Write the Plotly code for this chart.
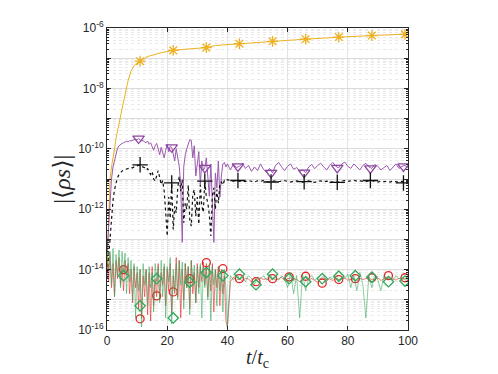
import plotly.graph_objects as go

# sample times: every 0.5 up to t=40, then every 1
t_grid = [i / 2 for i in range(81)] + list(range(41, 101))

# values stored as log10 exponents
orange_t = [0, 0.5, 1, 1.5, 2, 2.5, 3, 3.5, 4, 5, 6, 7, 8, 9, 10, 11, 12, 13, 14, 15, 16,
            18, 20, 22, 25, 28, 30, 33, 36, 40, 44, 48, 52, 55, 60, 66, 70, 77, 80, 88, 90, 95, 99, 100]
orange_exp = [-14.0, -12.2, -11.0, -10.6, -10.35, -10.0, -9.65, -9.4, -9.15,
              -8.6, -8.2, -7.75, -7.42, -7.25, -7.15, -7.1, -7.02, -6.97, -6.93, -6.9, -6.87,
              -6.82, -6.78, -6.74, -6.71, -6.68, -6.67, -6.65, -6.58, -6.55,
              -6.52, -6.48, -6.46, -6.44, -6.41, -6.37, -6.34, -6.30, -6.29, -6.25, -6.24, -6.22, -6.21, -6.2]
orange_mk_t = [11, 22, 33, 44, 55, 66, 77, 88, 99]
orange_mk_exp = [-7.1, -6.74, -6.65, -6.52, -6.44, -6.37, -6.30, -6.25, -6.21]

purple_exp = [
    -13.5, -12.5, -11.5, -11.0, -10.6, -10.36, -10.15, -9.98, -9.9, -9.85,
    -9.82, -9.8, -9.78, -9.75, -9.77, -9.73, -9.74, -9.72, -9.7, -9.68,
    -9.7, -9.66, -9.7, -9.75, -9.72, -9.78, -9.8, -9.74, -9.85, -9.8,
    -9.93, -10.05, -9.9, -9.82, -10.0, -10.2, -9.95, -10.15, -10.3, -10.05,
    -9.85, -10.1, -9.92, -9.95, -10.2, -10.4, -10.0, -10.36, -10.58, -11.2,
    -13.1, -10.6, -10.2, -10.0, -9.8, -9.7, -9.72, -10.3, -9.9, -10.9,
    -10.5, -10.1, -11.2, -10.4, -10.7, -10.63, -10.3, -10.9, -11.57, -10.5,
    -11.9, -13.1, -10.8, -11.3, -10.4, -11.6, -10.9, -10.5, -10.45, -10.6,
    -10.5,
    -10.7, -10.5, -10.62, -10.58, -10.48, -10.65, -10.55, -10.75, -10.6, -10.72,
    -10.5, -10.68, -10.78, -10.65, -10.8, -10.55, -10.45, -10.6, -10.72, -10.58,
    -10.5, -10.68, -10.62, -10.75, -10.7, -10.79, -10.6, -10.52, -10.66, -10.55,
    -10.48, -10.6, -10.7, -10.55, -10.45, -10.58, -10.63, -10.5, -10.44, -10.58,
    -10.65, -10.5, -10.6, -10.7, -10.55, -10.48, -10.6, -10.65, -10.52, -10.58,
    -10.7, -10.62, -10.55, -10.72, -10.6, -10.5, -10.65, -10.58, -10.55, -10.62]
purple_mk_t = [10.5, 21.5, 32.5, 43.5, 54.5, 65.5, 76.5, 87.5, 98.5]
purple_mk_exp = [-9.66, -9.95, -10.63, -10.58, -10.8, -10.79, -10.63, -10.65, -10.58]

black_exp = [
    -14.3, -13.6, -12.8, -12.2, -11.7, -11.35, -11.1, -10.95, -10.85, -10.78,
    -10.74, -10.7, -10.69, -10.67, -10.66, -10.64, -10.62, -10.63, -10.6, -10.58,
    -10.57, -10.55, -10.53, -10.58, -10.6, -10.63, -10.7, -10.66, -10.78, -10.85,
    -10.75, -11.0, -11.07, -10.9, -10.72, -10.95, -11.18, -11.05, -11.4, -12.1,
    -12.89, -11.6, -12.3, -11.13, -12.67, -11.9, -12.12, -11.3, -10.91, -11.4,
    -11.02, -12.45, -11.8, -12.0, -11.2, -12.34, -12.56, -11.5, -11.35, -12.23,
    -11.6, -12.5, -11.2, -11.9, -12.1, -11.07, -11.6, -11.79, -12.2, -12.89,
    -11.57, -11.29, -12.0, -11.35, -11.8, -11.15, -11.1, -11.2, -11.05, -11.08,
    -11.02,
    -11.05, -11.07, -11.04, -11.08, -11.06, -11.09, -11.05, -11.07, -11.1, -11.06,
    -11.08, -11.05, -11.09, -11.1, -11.08, -11.06, -11.09, -11.07, -11.05, -11.08,
    -11.1, -11.07, -11.06, -11.09, -11.1, -11.08, -11.06, -11.09, -11.11, -11.08,
    -11.06, -11.1, -11.07, -11.09, -11.1, -11.08, -11.11, -11.07, -11.05, -11.08,
    -11.06, -11.04, -11.07, -11.06, -11.08, -11.09, -11.06, -11.05, -11.08, -11.1,
    -11.07, -11.09, -11.08, -11.1, -11.07, -11.09, -11.11, -11.08, -11.1, -11.12]
black_mk_t = [11, 21.5, 32.5, 43.5, 54.5, 65.5, 76.5, 87.5, 98.5]
black_mk_exp = [-10.53, -11.13, -11.07, -11.05, -11.1, -11.09, -11.11, -11.05, -11.13]

red_exp = [
    -13.6, -14.4, -13.5, -14.6, -13.8, -14.9, -13.7, -14.3, -13.6, -14.5,
    -13.9, -14.7, -13.7, -14.2, -13.8, -14.8, -14.0, -15.1, -13.9, -14.6,
    -14.1, -15.3, -14.0, -15.6, -14.2, -14.9, -14.0, -15.5, -14.1, -15.7,
    -13.9, -15.2, -14.3, -14.9, -13.8, -15.0, -14.1, -14.5, -13.9, -15.2,
    -14.0, -14.7, -13.8, -15.5, -14.2, -14.8, -13.6, -14.9, -13.7, -15.6,
    -14.0, -15.0, -13.8, -14.6, -13.9, -15.3, -13.7, -14.8, -14.1, -15.1,
    -13.8, -14.6, -13.9, -14.4, -13.75, -14.5, -13.8, -14.9, -13.9, -14.7,
    -13.8, -15.4, -14.0, -14.6, -13.9, -15.2, -14.0, -14.8, -14.2, -15.7,
    -15.9,
    -14.4, -14.25, -14.35, -14.3, -14.38, -14.28, -14.32, -14.4, -14.3, -14.35,
    -14.27, -14.33, -14.3, -14.38, -14.29, -14.34, -14.31, -14.25, -14.36, -14.3,
    -14.28, -14.35, -14.32, -14.4, -14.3, -14.26, -14.33, -14.3, -14.37, -14.42,
    -14.3, -14.28, -14.34, -14.31, -14.36, -14.29, -14.33, -14.3, -14.27, -14.35,
    -14.32, -14.3, -14.38, -14.29, -14.33, -14.3, -14.26, -14.34, -14.31, -14.28,
    -14.36, -14.3, -14.25, -14.33, -14.3, -14.35, -14.29, -14.32, -14.3, -14.28]
red_mk_t = [5.5, 11, 16.5, 22, 27.5, 33, 38.5, 44, 49.5, 55, 60.5, 66, 71.5, 77, 82.5, 88, 93.5, 99]
red_mk_exp = [-14.0, -15.63, -14.87, -14.74, -14.3, -13.77, -13.97, -14.3, -14.4,
              -14.3, -14.24, -14.22, -14.45, -14.33, -14.3, -14.27, -14.2, -14.27]

green_exp = [
    -13.2, -14.0, -13.4, -14.5, -13.3, -14.9, -13.5, -14.2, -13.35, -14.6,
    -13.4, -14.1, -13.45, -14.8, -13.6, -14.4, -13.7, -15.0, -13.8, -15.6,
    -13.9, -14.7, -14.0, -15.9, -13.8, -14.5, -14.0, -15.2, -13.9, -14.6,
    -14.1, -15.4, -13.8, -14.4, -13.9, -15.1, -13.7, -14.9, -13.8, -15.6,
    -13.9, -14.4, -13.6, -15.8, -14.0, -14.7, -13.8, -15.0, -13.7, -14.5,
    -13.75, -15.3, -13.8, -14.6, -13.9, -15.5, -13.7, -14.4, -13.85, -15.1,
    -13.9, -14.8, -13.8, -15.6, -13.9, -14.6, -14.0, -15.0, -13.8, -15.7,
    -13.9, -14.5, -14.0, -15.2, -13.9, -14.7, -14.1, -15.4, -14.0, -14.6,
    -15.9,
    -14.2, -14.35, -14.15, -14.3, -14.25, -14.4, -14.2, -14.3, -14.5, -14.25,
    -14.3, -14.2, -14.35, -14.15, -14.3, -14.25, -14.35, -14.2, -14.3, -14.6,
    -14.1, -14.8, -14.2, -15.6, -14.15, -14.7, -14.3, -14.2, -14.35, -14.25,
    -14.3, -14.2, -14.4, -14.25, -14.3, -14.2, -14.35, -14.25, -14.3, -14.15,
    -14.6, -14.2, -14.7, -14.1, -14.5, -15.6, -14.2, -14.6, -14.15, -14.35,
    -14.7, -14.2, -14.3, -14.25, -14.35, -14.2, -14.3, -14.25, -14.35, -14.3]
green_mk_t = [5.5, 11, 16.5, 22, 27.5, 33, 38.5, 44, 49.5, 55, 60.5, 66, 71.5, 77, 82.5, 88, 93.5, 99]
green_mk_exp = [-14.2, -15.2, -14.3, -15.6, -14.42, -14.1, -14.2, -14.15, -14.5,
                -14.15, -14.3, -14.4, -14.3, -14.22, -14.2, -14.25, -14.4, -14.38]

y_tick_exp = [-16, -15, -14, -13, -12, -11, -10, -9, -8, -7, -6]
x_ticks = [0, 20, 40, 60, 80, 100]


def pw(exps):
    return [10 ** e for e in exps]


fig = go.Figure()

# (line t, line values, line style, marker t, marker values, symbol, colour, size)
series = [
    (orange_t, orange_exp, dict(color="#EDB120", width=1), orange_mk_t, orange_mk_exp, "asterisk-open", "#EDB120", 9),
    (t_grid, purple_exp, dict(color="#9A5AAE", width=1), purple_mk_t, purple_mk_exp, "triangle-down-open", "#8E44A0", 10),
    (t_grid, black_exp, dict(color="#111111", width=1.2, dash="dot"), black_mk_t, black_mk_exp, "cross-thin-open", "#111111", 11),
    (t_grid, red_exp, dict(color="rgba(235,40,40,0.6)", width=1), red_mk_t, red_mk_exp, "circle-open", "#E52525", 8),
    (t_grid, green_exp, dict(color="rgba(50,165,85,0.55)", width=1), green_mk_t, green_mk_exp, "diamond-open", "#2FA85A", 8),
]

for tx, ex, line, mt, me, sym, mcol, msz in series:
    fig.add_trace(go.Scatter(x=tx, y=pw(ex), mode="lines", line=line,
                             showlegend=False, hoverinfo="skip"))
    fig.add_trace(go.Scatter(x=mt, y=pw(me), mode="markers",
                             marker=dict(symbol=sym, size=msz, color=mcol,
                                         line=dict(color=mcol, width=1.3)),
                             showlegend=False, hoverinfo="skip"))

tick_font = dict(family="Liberation Sans, Arial, sans-serif", size=12, color="#262626")

minor_vals = [m * 10.0 ** e for e in range(-16, -6) for m in range(2, 10)]

fig.update_xaxes(
    range=[0, 100], tickvals=x_ticks, ticktext=[str(v) for v in x_ticks],
    showgrid=True, gridcolor="#e3e3e3", gridwidth=1,
    ticks="inside", ticklen=4, tickcolor="#262626",
    showline=True, linecolor="#262626", linewidth=1, mirror="ticks",
    zeroline=False, tickfont=tick_font,
)
fig.update_yaxes(
    type="log", range=[-16, -6],
    tickvals=[10.0 ** e for e in y_tick_exp],
    ticktext=["10<sup>%d</sup>" % e if e % 2 == 0 else "" for e in y_tick_exp],
    showgrid=True, gridcolor="#dcdcdc", gridwidth=1,
    ticks="inside", ticklen=4, tickcolor="#262626",
    showline=True, linecolor="#262626", linewidth=1, mirror="ticks",
    zeroline=False, tickfont=tick_font,
    minor=dict(tickmode="array", tickvals=minor_vals, showgrid=True,
               gridcolor="#e9e9e9", griddash="dot", ticks="inside",
               ticklen=2, tickcolor="#262626"),
)

fig.add_annotation(text="|⟨<i>ρs</i>⟩|", xref="paper", yref="paper",
                   x=-0.15, y=0.5, xanchor="center", yanchor="middle",
                   showarrow=False, textangle=-90,
                   font=dict(family="Liberation Serif, DejaVu Serif, serif", size=24, color="#262626"))
fig.add_annotation(text="<i>t</i>/<i>t</i><sub>c</sub>", xref="paper", yref="paper",
                   x=0.5, y=-0.095, xanchor="center", yanchor="middle",
                   showarrow=False,
                   font=dict(family="Liberation Serif, DejaVu Serif, serif", size=20, color="#262626"))

# page body adds an 8px offset, so the figure is drawn slightly smaller
fig.update_layout(
    width=490, height=366,
    margin=dict(l=99, r=90, t=20, b=44),
    paper_bgcolor="white", plot_bgcolor="white",
)

fig.write_html("out.html")
